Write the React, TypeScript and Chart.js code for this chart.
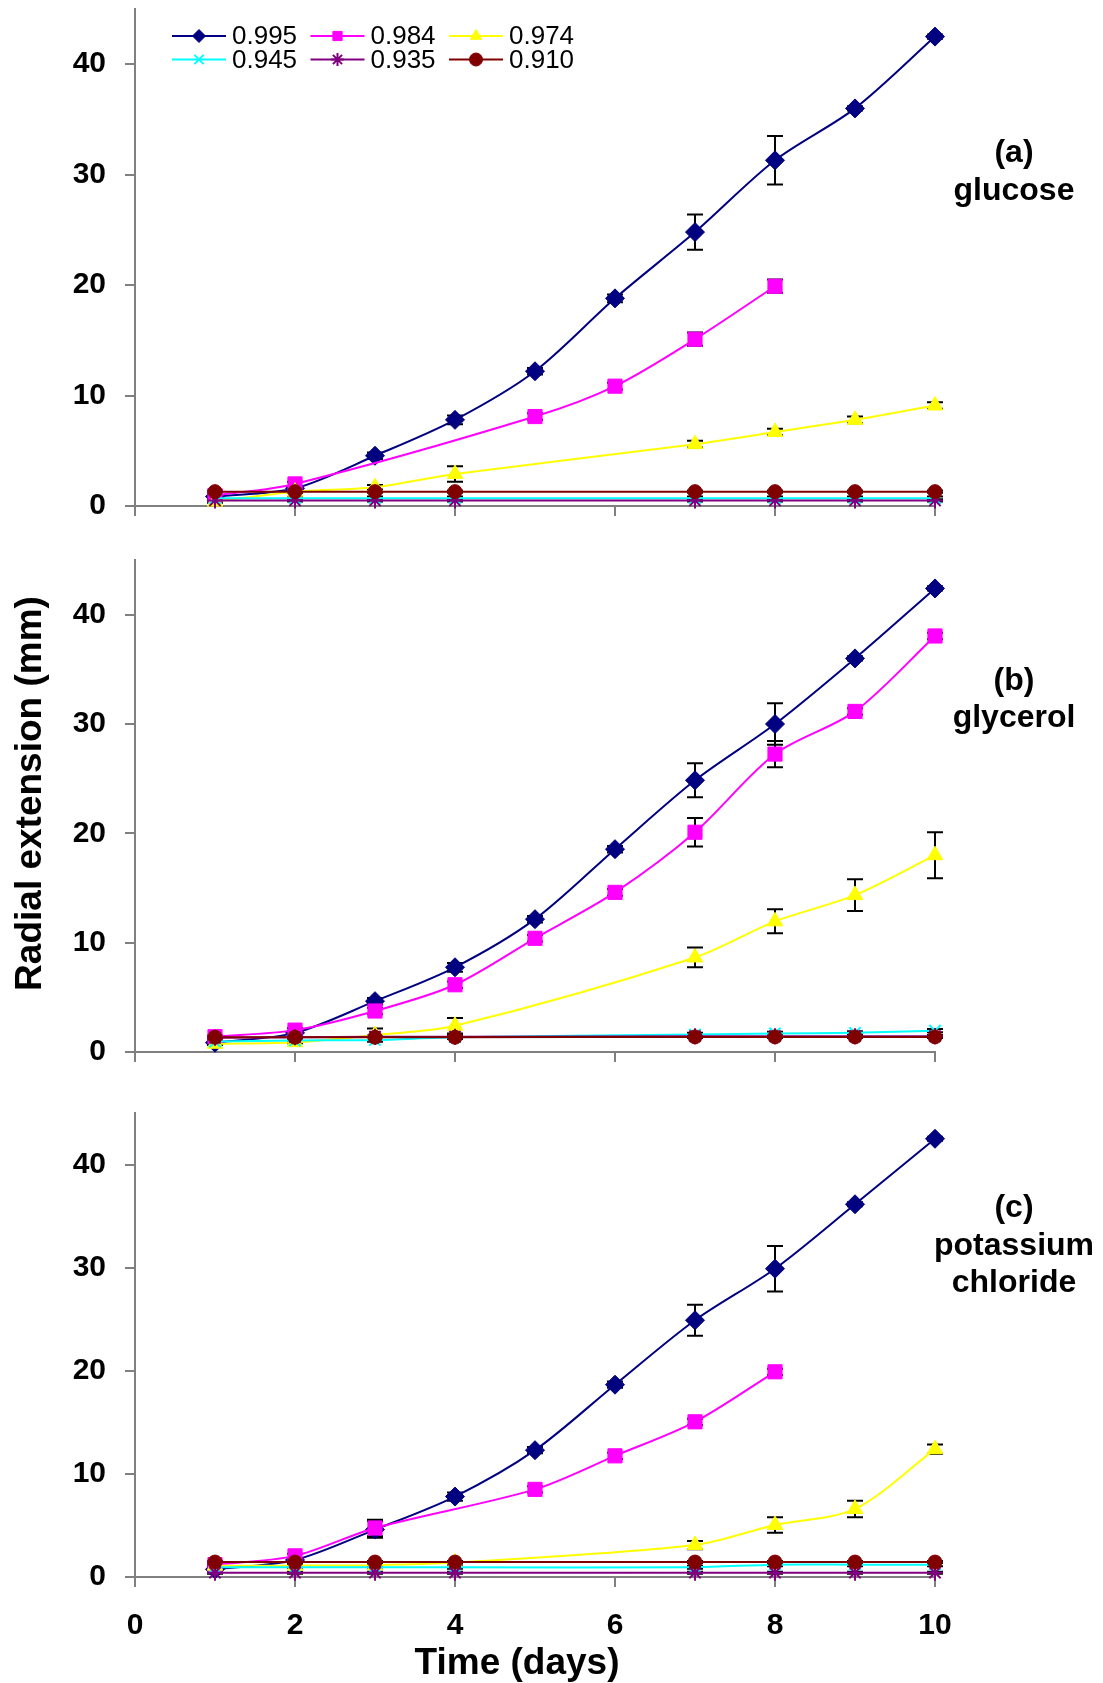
import React, { useEffect, useRef } from 'react';
import { Chart, registerables } from 'chart.js';
import { drawPoint } from 'chart.js/helpers';

Chart.register(...registerables);

// ---------- data ----------
const days = [1, 2, 3, 4, 5, 6, 7, 8, 9, 10];
const seriesLabels = ['0.995', '0.984', '0.974', '0.945', '0.935', '0.910'];
const yTicks = [0, 10, 20, 30, 40];
const xTicks = [0, 2, 4, 6, 8, 10];
const xTickLabels = ['0', '2', '4', '6', '8', '10'];

// (a) glucose
const glucose995 = [0.85, 1.6, 4.55, 7.8, 12.2, 18.8, 24.8, 31.3, 36.0, 42.5];
const glucose995Err = [0.1, 0.2, 0.3, 0.4, 0.3, 0.35, 1.6, 2.2, 0.2, 0.2];
const glucose984 = [0.95, 2.0, null, null, 8.1, 10.85, 15.1, 19.9, null, null];
const glucose984Err = [0.1, 0.2, null, null, 0.3, 0.3, 0.6, 0.6, null, null];
const glucose974 = [0.4, 1.3, 1.7, 2.9, null, null, 5.6, 6.7, 7.8, 9.1];
const glucose974Err = [0.1, 0.1, 0.2, 0.7, null, null, 0.3, 0.3, 0.3, 0.3];
const glucose945 = [0.7, 0.7, 0.7, 0.7, null, null, 0.7, 0.7, 0.7, 0.7];
const glucose945Err = [0.15, 0.15, 0.15, 0.15, null, null, 0.15, 0.15, 0.15, 0.15];
const glucose935 = [0.5, 0.5, 0.5, 0.5, null, null, 0.5, 0.5, 0.5, 0.5];
const glucose935Err = [0.1, 0.1, 0.1, 0.1, null, null, 0.1, 0.1, 0.1, 0.1];
const glucose910 = [1.3, 1.3, 1.3, 1.3, null, null, 1.3, 1.3, 1.3, 1.3];
const glucose910Err = [0.1, 0.1, 0.1, 0.1, null, null, 0.1, 0.1, 0.1, 0.1];

// (b) glycerol
const glycerol995 = [0.85, 1.75, 4.65, 7.75, 12.15, 18.55, 24.85, 30.0, 36.0, 42.4];
const glycerol995Err = [0.1, 0.2, 0.3, 0.4, 0.3, 0.3, 1.55, 1.9, 0.2, 0.2];
const glycerol984 = [1.4, 2.0, 3.75, 6.15, 10.4, 14.6, 20.1, 27.25, 31.15, 38.05];
const glycerol984Err = [0.1, 0.2, 0.3, 0.3, 0.3, 0.3, 1.3, 1.2, 0.3, 0.3];
const glycerol974 = [0.75, 0.9, 1.55, 2.4, null, null, 8.65, 11.95, 14.35, 18.0];
const glycerol974Err = [0.1, 0.1, 0.6, 0.7, null, null, 0.9, 1.1, 1.45, 2.1];
const glycerol945 = [0.95, 1.05, 1.1, 1.35, null, null, 1.6, 1.7, 1.75, 1.95];
const glycerol945Err = [0.15, 0.15, 0.15, 0.15, null, null, 0.15, 0.15, 0.15, 0.15];
const glycerol935 = [1.3, 1.35, 1.4, 1.4, null, null, 1.45, 1.45, 1.45, 1.45];
const glycerol935Err = [0.1, 0.1, 0.1, 0.1, null, null, 0.1, 0.1, 0.1, 0.1];
const glycerol910 = [1.35, 1.35, 1.35, 1.35, null, null, 1.38, 1.38, 1.38, 1.38];
const glycerol910Err = [0.1, 0.1, 0.1, 0.1, null, null, 0.1, 0.1, 0.1, 0.1];

// (c) potassium chloride
const kcl995 = [0.75, 1.65, 4.6, 7.8, 12.3, 18.65, 24.9, 29.9, 36.15, 42.5];
const kcl995Err = [0.1, 0.2, 0.8, 0.4, 0.3, 0.3, 1.5, 2.2, 0.2, 0.2];
const kcl984 = [1.2, 2.05, 4.75, null, 8.5, 11.75, 15.05, 19.9, null, null];
const kcl984Err = [0.1, 0.2, 0.8, null, 0.3, 0.3, 0.3, 0.3, null, null];
const kcl974 = [1.1, 1.1, 1.15, 1.4, null, null, 3.1, 5.05, 6.6, 12.4];
const kcl974Err = [0.1, 0.1, 0.1, 0.1, null, null, 0.4, 0.75, 0.8, 0.45];
const kcl945 = [0.95, 0.95, 0.95, 0.95, null, null, 0.95, 1.2, 1.2, 1.2];
const kcl945Err = [0.15, 0.15, 0.15, 0.15, null, null, 0.15, 0.15, 0.15, 0.15];
const kcl935 = [0.42, 0.42, 0.42, 0.42, null, null, 0.42, 0.42, 0.42, 0.42];
const kcl935Err = [0.1, 0.1, 0.1, 0.1, null, null, 0.1, 0.1, 0.1, 0.1];
const kcl910 = [1.45, 1.45, 1.45, 1.45, null, null, 1.45, 1.45, 1.45, 1.45];
const kcl910Err = [0.1, 0.1, 0.1, 0.1, null, null, 0.1, 0.1, 0.1, 0.1];

const panelLabels = [['(a)', 'glucose'], ['(b)', 'glycerol'], ['(c)', 'potassium', 'chloride']];
const yTitle = 'Radial extension (mm)';
const xTitle = 'Time (days)';

// ---------- styles ----------
const FONT = "'Liberation Sans', Arial, Helvetica, sans-serif";
const seriesStyles = [
  { color: '#000080', pointStyle: 'rectRot', radius: 9.5, borderWidth: 1 },
  { color: '#FF00FF', pointStyle: 'rect', radius: 10, borderWidth: 1 },
  { color: '#FFFF00', pointStyle: 'triangle', radius: 9, borderWidth: 1 },
  { color: '#00FFFF', pointStyle: 'crossRot', radius: 8, borderWidth: 2 },
  { color: '#800080', pointStyle: 'star', radius: 8, borderWidth: 2 },
  { color: '#800000', pointStyle: 'circle', radius: 7, borderWidth: 1 },
];

function buildDatasets(values: (number | null)[][], errors: (number | null)[][]) {
  return values.map((vals, si) => {
    const st = seriesStyles[si];
    const pts: { x: number; y: number }[] = [];
    const errs: number[] = [];
    days.forEach((d, i) => {
      const v = vals[i];
      if (v !== null && v !== undefined) {
        pts.push({ x: d, y: v });
        errs.push((errors[si][i] as number) || 0);
      }
    });
    return {
      label: seriesLabels[si],
      data: pts,
      errors: errs,
      borderColor: st.color,
      backgroundColor: st.color,
      pointBackgroundColor: st.color,
      pointBorderColor: st.color,
      pointBorderWidth: st.borderWidth,
      pointStyle: st.pointStyle,
      pointRadius: st.radius,
      borderWidth: 2,
      tension: 0.3,
      spanGaps: true,
      clip: false,
      order: seriesStyles.length - si,
    };
  });
}

const errorBarPlugin = {
  id: 'errorBars',
  beforeDatasetsDraw(chart: any) {
    const { ctx } = chart;
    const ys = chart.scales.y;
    ctx.save();
    ctx.strokeStyle = '#000000';
    ctx.lineWidth = 2;
    chart.data.datasets.forEach((ds: any, di: number) => {
      const meta = chart.getDatasetMeta(di);
      meta.data.forEach((pt: any, j: number) => {
        const e = ds.errors[j];
        if (!e) return;
        const raw = ds.data[j];
        const t = ys.getPixelForValue(raw.y + e);
        const b = ys.getPixelForValue(raw.y - e);
        ctx.beginPath();
        ctx.moveTo(pt.x, t);
        ctx.lineTo(pt.x, b);
        ctx.moveTo(pt.x - 8, t);
        ctx.lineTo(pt.x + 8, t);
        ctx.moveTo(pt.x - 8, b);
        ctx.lineTo(pt.x + 8, b);
        ctx.stroke();
      });
    });
    ctx.restore();
  },
};

function makeTextPlugin(panel: number) {
  return {
    id: 'panelText' + panel,
    afterDraw(chart: any) {
      const { ctx } = chart;
      ctx.save();
      ctx.fillStyle = '#000000';
      // panel label
      ctx.font = `bold 32px ${FONT}`;
      ctx.textAlign = 'center';
      ctx.textBaseline = 'alphabetic';
      const baseTop = [162, 160, 147][panel];
      const step = [38, 37, 37.5][panel];
      panelLabels[panel].forEach((line, i) => {
        ctx.fillText(line, 1014, baseTop + i * step);
      });
      if (panel === 0) {
        // legend
        seriesStyles.forEach((st, i) => {
          const col = i % 3;
          const row = Math.floor(i / 3);
          const x0 = 172 + col * 138.5;
          const y0 = 36 + row * 23.5;
          ctx.strokeStyle = st.color;
          ctx.lineWidth = 2;
          ctx.beginPath();
          ctx.moveTo(x0, y0);
          ctx.lineTo(x0 + 54, y0);
          ctx.stroke();
          ctx.fillStyle = st.color;
          ctx.strokeStyle = st.color;
          ctx.lineWidth = st.borderWidth;
          drawPoint(ctx, { pointStyle: st.pointStyle, radius: 6.5, rotation: 0, borderWidth: st.borderWidth } as any, x0 + 27, y0);
          ctx.fillStyle = '#000000';
          ctx.font = `26px ${FONT}`;
          ctx.textAlign = 'left';
          ctx.textBaseline = 'middle';
          ctx.fillText(seriesLabels[i], x0 + 60, y0 + 1);
        });
      }
      if (panel === 1) {
        ctx.save();
        ctx.translate(41, 263.5);
        ctx.rotate(-Math.PI / 2);
        ctx.font = `bold 37px ${FONT}`;
        ctx.textAlign = 'center';
        ctx.textBaseline = 'alphabetic';
        ctx.fillStyle = '#000000';
        ctx.fillText(yTitle, 0, 0);
        ctx.restore();
      }
      if (panel === 2) {
        ctx.font = `bold 37px ${FONT}`;
        ctx.textAlign = 'center';
        ctx.textBaseline = 'alphabetic';
        ctx.fillText(xTitle, 517, 604);
      }
      ctx.restore();
    },
  };
}

function makeConfig(panel: number, values: (number | null)[][], errors: (number | null)[][], padTop: number, xAxisHeight: number, showXLabels: boolean) {
  return {
    type: 'line',
    data: { datasets: buildDatasets(values, errors) },
    options: {
      animation: false,
      responsive: false,
      devicePixelRatio: 1,
      layout: { autoPadding: false, padding: { top: padTop, right: 168, left: 0, bottom: 0 } },
      plugins: { legend: { display: false }, tooltip: { enabled: false }, title: { display: false } },
      scales: {
        x: {
          type: 'linear',
          min: 0,
          max: 10,
          afterBuildTicks: (s: any) => {
            s.ticks = xTicks.map((v) => ({ value: v }));
          },
          afterFit: (s: any) => {
            s.height = xAxisHeight;
            s.paddingLeft = 0;
            s.paddingRight = 0;
          },
          ticks: {
            display: showXLabels,
            color: '#000000',
            font: { family: FONT, size: 30, weight: 'bold' },
            padding: 21,
            maxRotation: 0,
            callback: (v: number) => xTickLabels[xTicks.indexOf(v)] ?? '',
          },
          grid: { display: true, drawOnChartArea: false, drawTicks: true, tickLength: 10, color: '#808080', lineWidth: 2 },
          border: { display: true, color: '#808080', width: 2 },
        },
        y: {
          type: 'linear',
          min: 0,
          max: 45,
          afterBuildTicks: (s: any) => {
            s.ticks = yTicks.map((v) => ({ value: v }));
          },
          afterFit: (s: any) => {
            s.width = 135;
            s.paddingTop = 0;
            s.paddingBottom = 0;
          },
          ticks: {
            color: '#000000',
            font: { family: FONT, size: 30, weight: 'bold' },
            padding: 19,
          },
          grid: { display: true, drawOnChartArea: false, drawTicks: true, tickLength: 10, color: '#808080', lineWidth: 2 },
          border: { display: true, color: '#808080', width: 2 },
        },
      },
    },
    plugins: [errorBarPlugin, makeTextPlugin(panel)],
  };
}

const panels = [
  {
    top: 0,
    height: 518,
    padTop: 9,
    xAxisHeight: 12,
    showX: false,
    values: [glucose995, glucose984, glucose974, glucose945, glucose935, glucose910],
    errors: [glucose995Err, glucose984Err, glucose974Err, glucose945Err, glucose935Err, glucose910Err],
  },
  {
    top: 530,
    height: 534,
    padTop: 30,
    xAxisHeight: 12,
    showX: false,
    values: [glycerol995, glycerol984, glycerol974, glycerol945, glycerol935, glycerol910],
    errors: [glycerol995Err, glycerol984Err, glycerol974Err, glycerol945Err, glycerol935Err, glycerol910Err],
  },
  {
    top: 1070,
    height: 613,
    padTop: 43,
    xAxisHeight: 106,
    showX: true,
    values: [kcl995, kcl984, kcl974, kcl945, kcl935, kcl910],
    errors: [kcl995Err, kcl984Err, kcl974Err, kcl945Err, kcl935Err, kcl910Err],
  },
];

export default function App() {
  const refs = [useRef<HTMLCanvasElement>(null), useRef<HTMLCanvasElement>(null), useRef<HTMLCanvasElement>(null)];

  useEffect(() => {
    const charts = panels.map((p, i) => {
      const cv = refs[i].current as HTMLCanvasElement;
      return new Chart(cv, makeConfig(i, p.values, p.errors, p.padTop, p.xAxisHeight, p.showX) as any);
    });
    return () => charts.forEach((c) => c.destroy());
  }, []);

  return (
    <div style={{ position: 'relative', width: 1103, height: 1683, background: '#ffffff', overflow: 'hidden' }}>
      <style>{'body{margin:0;background:#ffffff;}'}</style>
      {panels.map((p, i) => (
        <canvas
          key={i}
          ref={refs[i]}
          width={1103}
          height={p.height}
          style={{ position: 'absolute', left: 0, top: p.top, width: 1103, height: p.height, display: 'block' }}
        />
      ))}
    </div>
  );
}
